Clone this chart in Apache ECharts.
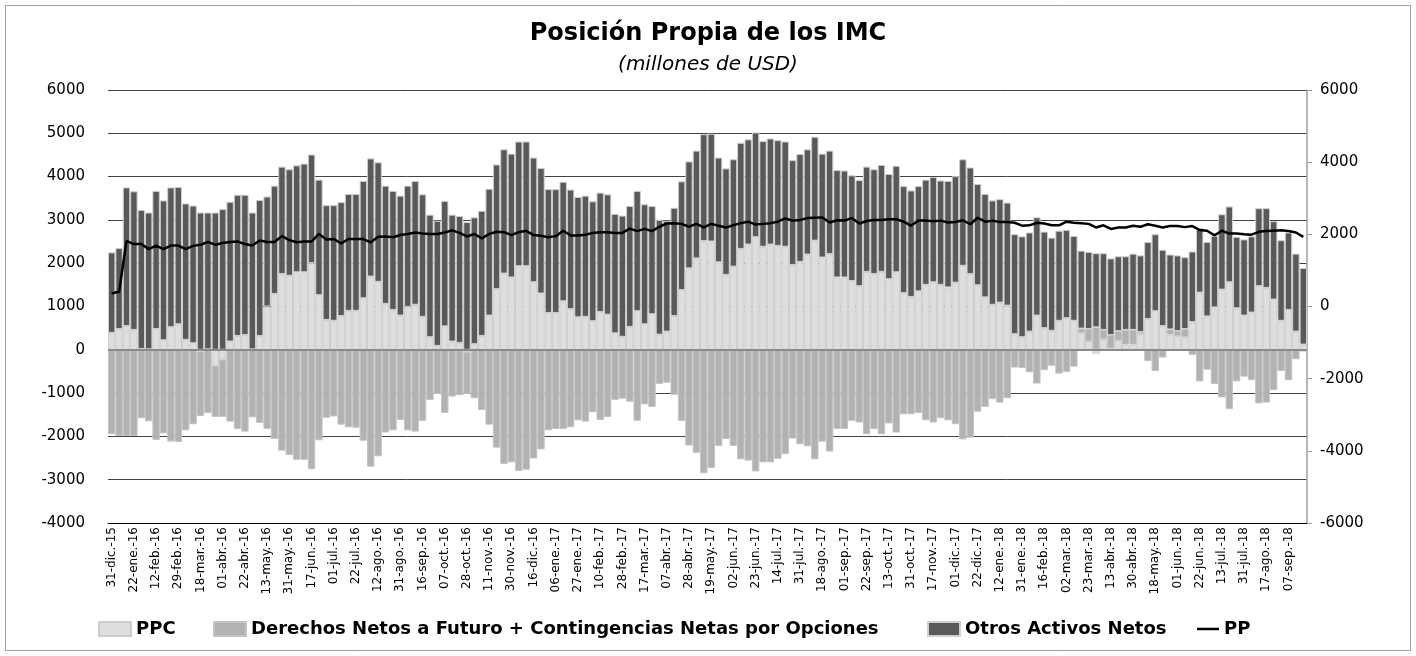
<!DOCTYPE html>
<html>

<head>
	<meta charset="utf-8">
	<title>Posicion Propia de los IMC</title>
	<script src="https://cdn.jsdelivr.net/npm/echarts@6/dist/echarts.min.js"></script>
	<style>
		body { margin: 0; background: #fff; }
		#chart { width: 1416px; height: 656px; }
	</style>
</head>

<body>
	<div id="chart"></div>
	<script>
		// fechas (una barra por semana + fin de mes)
		var fechas = [
			'31-dic.-15', '08-ene.-16', '15-ene.-16', '22-ene.-16', '29-ene.-16', '05-feb.-16', '12-feb.-16', '19-feb.-16', '26-feb.-16', '29-feb.-16',
			'04-mar.-16', '11-mar.-16', '18-mar.-16', '24-mar.-16', '31-mar.-16', '01-abr.-16', '08-abr.-16', '15-abr.-16', '22-abr.-16', '29-abr.-16',
			'06-may.-16', '13-may.-16', '20-may.-16', '27-may.-16', '31-may.-16', '03-jun.-16', '10-jun.-16', '17-jun.-16', '24-jun.-16', '30-jun.-16',
			'01-jul.-16', '08-jul.-16', '15-jul.-16', '22-jul.-16', '29-jul.-16', '05-ago.-16', '12-ago.-16', '19-ago.-16', '26-ago.-16', '31-ago.-16',
			'02-sep.-16', '09-sep.-16', '16-sep.-16', '23-sep.-16', '30-sep.-16', '07-oct.-16', '14-oct.-16', '21-oct.-16', '28-oct.-16', '31-oct.-16',
			'04-nov.-16', '11-nov.-16', '18-nov.-16', '25-nov.-16', '30-nov.-16', '02-dic.-16', '09-dic.-16', '16-dic.-16', '23-dic.-16', '30-dic.-16',
			'06-ene.-17', '13-ene.-17', '20-ene.-17', '27-ene.-17', '31-ene.-17', '03-feb.-17', '10-feb.-17', '17-feb.-17', '24-feb.-17', '28-feb.-17',
			'03-mar.-17', '10-mar.-17', '17-mar.-17', '24-mar.-17', '31-mar.-17', '07-abr.-17', '13-abr.-17', '21-abr.-17', '28-abr.-17', '05-may.-17',
			'12-may.-17', '19-may.-17', '26-may.-17', '31-may.-17', '02-jun.-17', '09-jun.-17', '16-jun.-17', '23-jun.-17', '30-jun.-17', '07-jul.-17',
			'14-jul.-17', '21-jul.-17', '28-jul.-17', '31-jul.-17', '04-ago.-17', '11-ago.-17', '18-ago.-17', '25-ago.-17', '31-ago.-17', '01-sep.-17',
			'08-sep.-17', '15-sep.-17', '22-sep.-17', '29-sep.-17', '06-oct.-17', '13-oct.-17', '20-oct.-17', '27-oct.-17', '31-oct.-17', '03-nov.-17',
			'10-nov.-17', '17-nov.-17', '24-nov.-17', '30-nov.-17', '01-dic.-17', '08-dic.-17', '15-dic.-17', '22-dic.-17', '29-dic.-17', '05-ene.-18',
			'12-ene.-18', '19-ene.-18', '26-ene.-18', '31-ene.-18', '02-feb.-18', '09-feb.-18', '16-feb.-18', '23-feb.-18', '28-feb.-18', '02-mar.-18',
			'09-mar.-18', '16-mar.-18', '23-mar.-18', '29-mar.-18', '06-abr.-18', '13-abr.-18', '20-abr.-18', '27-abr.-18', '30-abr.-18', '04-may.-18',
			'11-may.-18', '18-may.-18', '25-may.-18', '31-may.-18', '01-jun.-18', '08-jun.-18', '15-jun.-18', '22-jun.-18', '29-jun.-18', '06-jul.-18',
			'13-jul.-18', '20-jul.-18', '27-jul.-18', '31-jul.-18', '03-ago.-18', '10-ago.-18', '17-ago.-18', '24-ago.-18', '31-ago.-18', '07-sep.-18',
			'14-sep.-18', '21-sep.-18'
		];

		var ppc = [
			390, 480, 550, 460, 20, 10, 480, 220, 520, 590,
			230, 150, -40, 10, -370, -220, 190, 320, 340, 10,
			320, 1000, 1290, 1750, 1710, 1790, 1790, 2000, 1260, 690,
			670, 780, 900, 900, 1190, 1690, 1570, 1060, 920, 790,
			990, 1040, 760, 290, 90, 540, 190, 160, -50, 130,
			320, 790, 1400, 1760, 1670, 1930, 1930, 1560, 1300, 850,
			850, 1120, 940, 750, 760, 660, 870, 810, 380, 300,
			530, 890, 590, 820, 350, 420, 780, 1380, 1880, 2110,
			2510, 2500, 2020, 1730, 1920, 2330, 2430, 2600, 2380, 2430,
			2400, 2380, 1960, 2030, 2200, 2520, 2130, 2210, 1670, 1670,
			1590, 1470, 1800, 1750, 1800, 1630, 1790, 1310, 1220, 1350,
			1500, 1560, 1500, 1440, 1550, 1940, 1750, 1490, 1210, 1040,
			1090, 1020, 360, 290, 420, 790, 500, 440, 670, 730,
			670, 390, 190, -90, 250, 30, 210, 120, 120, 360,
			710, 890, 550, 350, 320, 290, 640, 1320, 770, 980,
			1390, 1560, 960, 790, 860, 1470, 1430, 1160, 670, 920,
			420, 120
		];

		var derechos = [
			-1950, -1990, -1990, -1990, -1580, -1650, -2080, -1930, -2120, -2130,
			-1860, -1720, -1490, -1460, -1180, -1330, -1660, -1830, -1890, -1560,
			-1690, -1830, -2060, -2330, -2430, -2540, -2540, -2760, -2090, -1570,
			-1540, -1730, -1790, -1800, -2100, -2700, -2460, -1910, -1860, -1620,
			-1860, -1890, -1640, -1160, -1020, -1460, -1080, -1050, -970, -1120,
			-1390, -1730, -2260, -2640, -2600, -2800, -2770, -2510, -2300, -1860,
			-1830, -1830, -1790, -1630, -1660, -1440, -1620, -1550, -1160, -1130,
			-1200, -1640, -1260, -1320, -790, -760, -1040, -1640, -2210, -2380,
			-2850, -2730, -2220, -2060, -2220, -2530, -2560, -2810, -2600, -2600,
			-2520, -2410, -2050, -2180, -2230, -2530, -2120, -2350, -1830, -1830,
			-1640, -1680, -1950, -1830, -1950, -1700, -1910, -1490, -1490, -1460,
			-1630, -1680, -1580, -1630, -1720, -2070, -2030, -1430, -1320, -1140,
			-1220, -1120, -410, -420, -520, -780, -470, -370, -550, -510,
			-390, 100, 290, 520, 210, 310, 220, 340, 340, 50,
			-260, -490, -180, 120, 110, 190, -120, -730, -460, -790,
			-1100, -1370, -730, -620, -700, -1240, -1220, -930, -490, -700,
			-220, -40
		];

		var otros = [
			1860, 1870, 3200, 3200, 3210, 3160, 3190, 3230, 3230, 3170,
			3150, 3180, 3170, 3160, 3170, 3250, 3230, 3260, 3240, 3160,
			3140, 2540, 2500, 2480, 2460, 2470, 2510, 2510, 2670, 2650,
			2670, 2630, 2700, 2700, 2710, 2730, 2760, 2730, 2750, 2770,
			2800, 2860, 2830, 2830, 2890, 2900, 2930, 2930, 2950, 2930,
			2890, 2930, 2880, 2870, 2860, 2880, 2880, 2880, 2900, 2860,
			2860, 2760, 2760, 2780, 2800, 2770, 2760, 2780, 2760, 2800,
			2790, 2780, 2770, 2500, 2650, 2560, 2500, 2510, 2470, 2490,
			2470, 2490, 2420, 2460, 2480, 2450, 2430, 2420, 2440, 2450,
			2440, 2430, 2420, 2490, 2430, 2400, 2400, 2390, 2480, 2470,
			2440, 2450, 2430, 2420, 2470, 2430, 2460, 2470, 2460, 2430,
			2430, 2430, 2410, 2460, 2460, 2460, 2460, 2340, 2390, 2410,
			2390, 2380, 2310, 2330, 2290, 2270, 2230, 2150, 2080, 2040,
			1960, 1800, 1780, 1710, 1770, 1770, 1730, 1700, 1760, 1770,
			1780, 1780, 1760, 1730, 1750, 1660, 1630, 1490, 1720, 1650,
			1740, 1750, 1650, 1760, 1760, 1800, 1840, 1810, 1860, 1790,
			1800, 1770
		];

		var pp = [
			370, 410, 1820, 1730, 1730, 1590, 1690, 1590, 1690, 1690,
			1590, 1680, 1710, 1790, 1710, 1760, 1790, 1800, 1730, 1690,
			1830, 1790, 1790, 1950, 1840, 1780, 1800, 1800, 2010, 1860,
			1870, 1750, 1870, 1870, 1870, 1780, 1930, 1940, 1920, 1980,
			2010, 2050, 2020, 2010, 2010, 2050, 2110, 2040, 1940, 2010,
			1890, 2010, 2070, 2060, 1980, 2060, 2100, 1980, 1960, 1920,
			1950, 2100, 1970, 1970, 1990, 2040, 2060, 2060, 2040, 2040,
			2160, 2090, 2150, 2090, 2210, 2300, 2310, 2290, 2210, 2290,
			2190, 2290, 2240, 2190, 2250, 2310, 2350, 2270, 2290, 2310,
			2350, 2440, 2380, 2400, 2450, 2460, 2470, 2330, 2390, 2380,
			2450, 2300, 2370, 2400, 2400, 2420, 2420, 2350, 2240, 2380,
			2380, 2360, 2380, 2330, 2340, 2390, 2280, 2460, 2350, 2380,
			2340, 2340, 2320, 2240, 2250, 2320, 2300, 2250, 2250, 2350,
			2320, 2310, 2290, 2190, 2250, 2150, 2190, 2190, 2240, 2210,
			2280, 2240, 2190, 2230, 2230, 2200, 2230, 2120, 2100, 1970,
			2100, 2020, 2020, 2000, 1990, 2070, 2090, 2100, 2110, 2090,
			2050, 1930
		];

		var nombres = ['PPC', 'Derechos Netos a Futuro + Contingencias Netas por Opciones', 'Otros Activos Netos', 'PP'];
		var colores = ['#dedede', '#b2b2b2', '#595959', '#000000'];

		var chart = echarts.init(document.getElementById('chart'), null, { renderer: 'canvas' });
		var fuente = 'DejaVu Sans';
		var legendText = { fontFamily: fuente, fontWeight: 'bold', fontSize: 18, color: '#000' };

		function sinComa(v) {
			return String(v);
		}

		var option = {
			animation: false,
			textStyle: { fontFamily: fuente },
			title: {
				text: 'Posición Propia de los IMC',
				subtext: '(millones de USD)',
				left: 'center',
				top: 17,
				itemGap: 9,
				textStyle: { fontFamily: fuente, fontSize: 24, fontWeight: 'bold', color: '#000' },
				subtextStyle: { fontFamily: fuente, fontSize: 20, fontStyle: 'italic', color: '#000' }
			},
			graphic: [{
				type: 'rect',
				shape: { x: 5.5, y: 5.5, width: 1405, height: 645 },
				style: { fill: 'none', stroke: '#a0a0a0', lineWidth: 1 },
				silent: true
			}],
			legend: [
				{ data: [nombres[0]], left: 98, top: 620, padding: 0, icon: 'rect', itemWidth: 32, itemHeight: 14, textStyle: legendText },
				{ data: [nombres[1]], left: 213, top: 620, padding: 0, icon: 'rect', itemWidth: 32, itemHeight: 14, textStyle: legendText },
				{ data: [nombres[2]], left: 927, top: 620, padding: 0, icon: 'rect', itemWidth: 32, itemHeight: 14, textStyle: legendText },
				{ data: [nombres[3]], left: 1197, top: 620, padding: 0, icon: 'rect', itemWidth: 22, itemHeight: 2.5, textStyle: legendText }
			],
			grid: { left: 108, right: 109, top: 90, bottom: 133 },
			xAxis: {
				type: 'category',
				data: fechas,
				axisLine: { onZero: false, lineStyle: { color: '#000', width: 1 } },
				axisTick: { show: false },
				axisLabel: { interval: 2, rotate: 90, fontSize: 12, color: '#000', margin: 4 }
			},
			yAxis: [
				{
					type: 'value',
					min: -4000,
					max: 6000,
					interval: 1000,
					axisLine: { show: false },
					axisTick: { show: false },
					axisLabel: { fontSize: 15, color: '#000', margin: 23, formatter: sinComa },
					splitLine: { lineStyle: { color: '#444', width: 1 } }
				},
				{
					type: 'value',
					min: -6000,
					max: 6000,
					interval: 2000,
					position: 'right',
					axisLine: { show: true, lineStyle: { color: '#a0a0a0', width: 1.5 } },
					axisTick: { show: true, length: 5, lineStyle: { color: '#a0a0a0' } },
					axisLabel: { fontSize: 15, color: '#000', margin: 13, formatter: sinComa },
					splitLine: { show: false }
				}
			],
			series: [
				{
					name: nombres[0],
					type: 'bar',
					stack: 'imc',
					data: ppc,
					barCategoryGap: '0%',
					itemStyle: { color: colores[0], borderColor: '#cdcdcd', borderWidth: 1 },
					markLine: {
						silent: true,
						symbol: 'none',
						label: { show: false },
						lineStyle: { color: '#8a8a8a', width: 2, type: 'solid' },
						data: [{ yAxis: 0 }]
					}
				},
				{
					name: nombres[1],
					type: 'bar',
					stack: 'imc',
					data: derechos,
					itemStyle: { color: colores[1], borderColor: '#c4c4c4', borderWidth: 1 }
				},
				{
					name: nombres[2],
					type: 'bar',
					stack: 'imc',
					data: otros,
					itemStyle: { color: colores[2], borderColor: '#cfcfcf', borderWidth: 1 }
				},
				{
					name: nombres[3],
					type: 'line',
					yAxisIndex: 1,
					data: pp,
					symbol: 'none',
					lineStyle: { color: colores[3], width: 2.5 },
					itemStyle: { color: colores[3] },
					z: 5
				}
			]
		};

		chart.setOption(option);
	</script>
</body>

</html>
